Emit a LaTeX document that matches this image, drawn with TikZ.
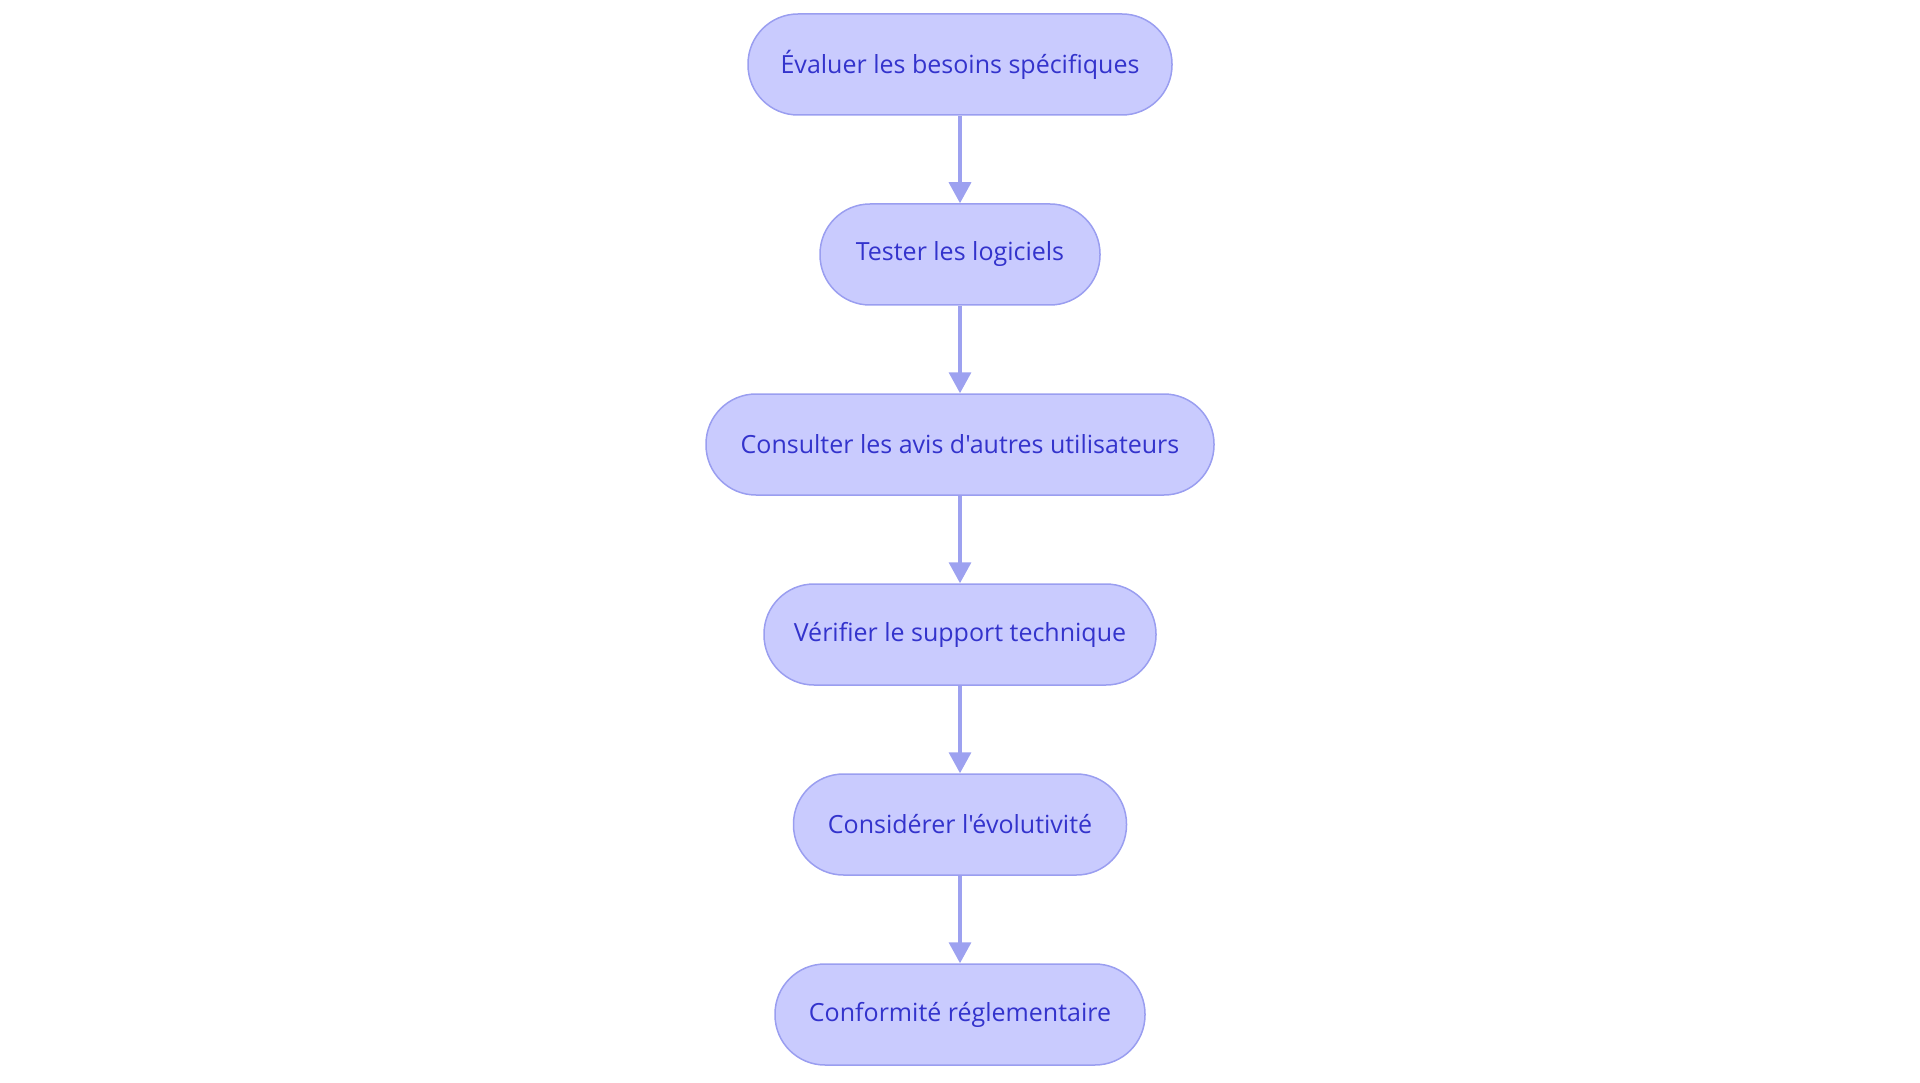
\documentclass[tikz,border=0pt]{standalone}
\usepackage{fontspec}
\setmainfont{Open Sans}[Ligatures=TeXOff]
\usetikzlibrary{arrows.meta}
\definecolor{boxfill}{HTML}{C9CBFE}
\definecolor{boxline}{HTML}{9A9EF0}
\definecolor{boxtext}{HTML}{3333CC}
\definecolor{arrowc}{HTML}{9DA1F0}
\tikzset{
  stepbox/.style={draw=boxline, fill=boxfill, line width=1.5pt, rounded corners=50pt,
    minimum height=101pt, inner sep=0pt, text=boxtext,
    font=\fontsize{25}{29}\selectfont},
  flow/.style={draw=arrowc, line width=3.5pt, -{Triangle[length=21pt,width=22pt]}, shorten >=0pt}
}
\begin{document}
\begin{tikzpicture}[x=1pt,y=-1pt]
\useasboundingbox (0,0) rectangle (1920,1083);
\node[stepbox, minimum width=424pt] (n1) at (960,64.5) {Évaluer les besoins spécifiques};
\node[stepbox, minimum width=280pt] (n2) at (960,254.5) {Tester les logiciels};
\node[stepbox, minimum width=508pt] (n3) at (960,444.5) {Consulter les avis d'autres utilisateurs};
\node[stepbox, minimum width=392pt] (n4) at (960,634.5) {Vérifier le support technique};
\node[stepbox, minimum width=333pt] (n5) at (960,824.5) {Considérer l'évolutivité};
\node[stepbox, minimum width=370pt] (n6) at (960,1014.5) {Conformité réglementaire};
\draw[flow] (n1) -- (n2);
\draw[flow] (n2) -- (n3);
\draw[flow] (n3) -- (n4);
\draw[flow] (n4) -- (n5);
\draw[flow] (n5) -- (n6);
\end{tikzpicture}
\end{document}
